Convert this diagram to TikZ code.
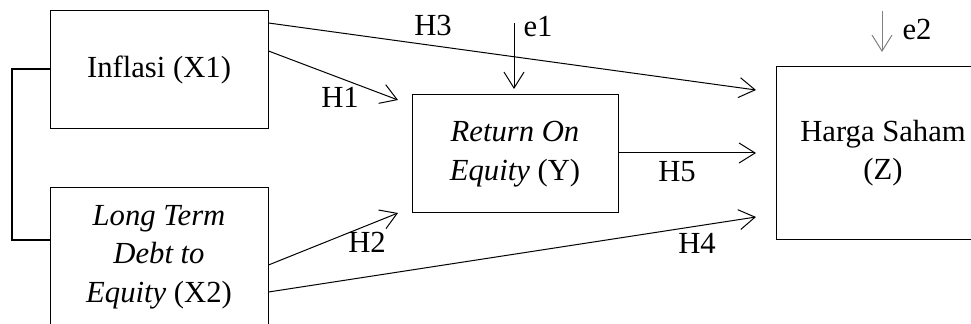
\documentclass[tikz,border=0pt]{standalone}
\usepackage{fontspec}
\setmainfont{Liberation Serif}
\usetikzlibrary{arrows.meta}
\begin{document}
\begin{tikzpicture}[x=0.75pt,y=-0.75pt,
  box/.style={draw, line width=0.75pt, inner sep=0pt, align=center, font=\fontsize{23}{29}\selectfont},
  arr/.style={line width=0.75pt, -{Straight Barb[length=12pt,width=15pt,line width=0.75pt]}},
  lbl/.style={inner sep=0pt, font=\fontsize{23}{29}\selectfont},
  bracket/.style={line width=1.5pt}]
\useasboundingbox (0,0) rectangle (971,324);
\clip (0,0) rectangle (971,324);
\node[box, minimum width=163.5pt, minimum height=88.5pt] (X1) at (159,70) {Inflasi (X1)};
\node[box, minimum width=163.5pt, minimum height=103.5pt] (X2) at (159,257) {\textit{Long Term}\\\textit{Debt to}\\\textit{Equity} (X2)};
\node[box, minimum width=154.5pt, minimum height=88.5pt] (Y) at (515,154) {\textit{Return On}\\\textit{Equity} (Y)};
\node[box, minimum width=160.5pt, minimum height=129pt] (Z) at (883,153) {Harga Saham\\(Z)};
% free ends
\coordinate (h1e) at (398,100);
\coordinate (h2e) at (398,213);
\coordinate (h3e) at (756,90);
\coordinate (h4e) at (756,217);
\coordinate (h5e) at (756,153);
\coordinate (e1s) at (514,23);
\coordinate (e1e) at (514,89);
\coordinate (e2s) at (882,11);
\coordinate (e2e) at (882,52);
% connectors
\draw[arr] (X1.east |- 0,23) -- (h3e);
\draw[arr] (X1.east |- 0,51) -- (h1e);
\draw[arr] (X2.east |- 0,265) -- (h2e);
\draw[arr] (X2.east |- 0,292) -- (h4e);
\draw[arr] (Y.east |- 0,153) -- (h5e);
\draw[arr] (e1s) -- (e1e);
\draw[arr, gray] (e2s) -- (e2e);
\draw[bracket] (X1.west |- 0,69) -- (12,69) -- (12,240) -- (X2.west |- 0,240);
% labels
\node[lbl] (lh1) at (340,97) {H1};
\node[lbl] (lh2) at (367,242) {H2};
\node[lbl] (lh3) at (433,25) {H3};
\node[lbl] (lh4) at (697,243) {H4};
\node[lbl] (lh5) at (677,172) {H5};
\node[lbl] (le1) at (538,27) {e1};
\node[lbl] (le2) at (917,29) {e2};
\end{tikzpicture}
\end{document}
